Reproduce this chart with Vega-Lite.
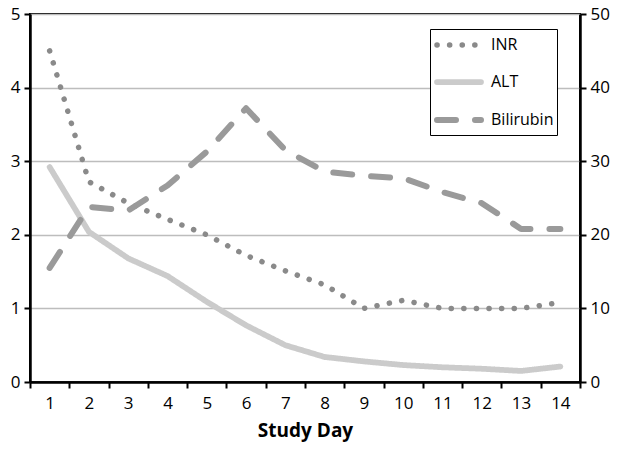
{
  "$schema": "https://vega.github.io/schema/vega-lite/v6.json",
  "width": 550,
  "height": 368,
  "autosize": "none",
  "padding": {"left": 30, "top": 14, "right": 41, "bottom": 67},
  "background": "white",
  "config": {
    "font": "Open Sans",
    "view": {"stroke": "black", "strokeWidth": 2},
    "axis": {"labelFont": "Open Sans", "labelFontSize": 17, "labelColor": "black", "domainColor": "black", "domainWidth": 2.5, "tickColor": "black", "tickWidth": 2, "tickSize": 6},
    "legend": {"labelFontSize": 16, "labelFont": "Open Sans", "labelColor": "black"}
  },
  "datasets": {
    "left": [
      {"day": 1, "series": "INR", "value": 4.5},
      {"day": 2, "series": "INR", "value": 2.72},
      {"day": 3, "series": "INR", "value": 2.43},
      {"day": 4, "series": "INR", "value": 2.21},
      {"day": 5, "series": "INR", "value": 2.0},
      {"day": 6, "series": "INR", "value": 1.72},
      {"day": 7, "series": "INR", "value": 1.51},
      {"day": 8, "series": "INR", "value": 1.32},
      {"day": 9, "series": "INR", "value": 1.0},
      {"day": 10, "series": "INR", "value": 1.11},
      {"day": 11, "series": "INR", "value": 1.0},
      {"day": 12, "series": "INR", "value": 1.0},
      {"day": 13, "series": "INR", "value": 1.0},
      {"day": 14, "series": "INR", "value": 1.08},
      {"day": 1, "series": "ALT", "value": 2.92},
      {"day": 2, "series": "ALT", "value": 2.04},
      {"day": 3, "series": "ALT", "value": 1.68},
      {"day": 4, "series": "ALT", "value": 1.44},
      {"day": 5, "series": "ALT", "value": 1.09},
      {"day": 6, "series": "ALT", "value": 0.77},
      {"day": 7, "series": "ALT", "value": 0.5},
      {"day": 8, "series": "ALT", "value": 0.34},
      {"day": 9, "series": "ALT", "value": 0.28},
      {"day": 10, "series": "ALT", "value": 0.23},
      {"day": 11, "series": "ALT", "value": 0.2},
      {"day": 12, "series": "ALT", "value": 0.18},
      {"day": 13, "series": "ALT", "value": 0.15},
      {"day": 14, "series": "ALT", "value": 0.21}
    ],
    "right": [
      {"day": 1, "series": "Bilirubin", "value": 15.5},
      {"day": 2, "series": "Bilirubin", "value": 23.8},
      {"day": 3, "series": "Bilirubin", "value": 23.3},
      {"day": 4, "series": "Bilirubin", "value": 26.7},
      {"day": 5, "series": "Bilirubin", "value": 31.3},
      {"day": 6, "series": "Bilirubin", "value": 37.2},
      {"day": 7, "series": "Bilirubin", "value": 31.5},
      {"day": 8, "series": "Bilirubin", "value": 28.6},
      {"day": 9, "series": "Bilirubin", "value": 28.0},
      {"day": 10, "series": "Bilirubin", "value": 27.7},
      {"day": 11, "series": "Bilirubin", "value": 25.8},
      {"day": 12, "series": "Bilirubin", "value": 24.3},
      {"day": 13, "series": "Bilirubin", "value": 20.8},
      {"day": 14, "series": "Bilirubin", "value": 20.8}
    ]
  },
  "encoding": {
    "x": {
      "field": "day", "type": "quantitative",
      "scale": {"domain": [0.5, 14.5], "nice": false, "zero": false},
      "axis": {
        "title": "Study Day", "titleFontSize": 19, "titleFontWeight": "bold", "titleColor": "black", "titlePadding": 10,
        "values": [0.5, 1.5, 2.5, 3.5, 4.5, 5.5, 6.5, 7.5, 8.5, 9.5, 10.5, 11.5, 12.5, 13.5, 14.5],
        "labelExpr": "datum.value < 14 ? format(datum.value + 0.5, 'd') : ''",
        "labelOffset": 19.64, "labelPadding": 7, "grid": false, "labelFlush": false
      }
    },
    "color": {
      "field": "series", "type": "nominal",
      "scale": {"domain": ["INR", "ALT", "Bilirubin"], "range": ["#8a8a8a", "#cbcbcb", "#9a9a9a"]},
      "legend": {
        "title": null, "orient": "none", "legendX": 400, "legendY": 15,
        "strokeColor": "black", "fillColor": "white", "padding": 3,
        "symbolType": "M-2.2,0H2.2", "symbolSize": 400, "rowPadding": 13,
        "labelFontSize": 16, "labelColor": "black", "labelFont": "Open Sans", "labelOffset": 32,
        "encode": {"symbols": {"update": {"strokeCap": {"value": "round"}, "x": {"value": 26}}}}
      }
    },
    "strokeDash": {
      "field": "series", "type": "nominal",
      "scale": {"domain": ["INR", "ALT", "Bilirubin"], "range": [[0.1, 12.5], [1, 0], [19, 19]]},
      "legend": {
        "title": null, "orient": "none", "legendX": 400, "legendY": 15,
        "strokeColor": "black", "fillColor": "white", "padding": 3,
        "symbolType": "M-2.2,0H2.2", "symbolSize": 400, "rowPadding": 13,
        "labelFontSize": 16, "labelColor": "black", "labelFont": "Open Sans", "labelOffset": 32,
        "encode": {"symbols": {"update": {"strokeCap": {"value": "round"}, "x": {"value": 26}}}}
      }
    },
    "strokeWidth": {
      "field": "series", "type": "nominal",
      "scale": {"domain": ["INR", "ALT", "Bilirubin"], "range": [5.5, 6, 6]},
      "legend": {
        "title": null, "orient": "none", "legendX": 400, "legendY": 15,
        "strokeColor": "black", "fillColor": "white", "padding": 3,
        "symbolType": "M-2.2,0H2.2", "symbolSize": 400, "rowPadding": 13,
        "labelFontSize": 16, "labelColor": "black", "labelFont": "Open Sans", "labelOffset": 32,
        "encode": {"symbols": {"update": {"strokeCap": {"value": "round"}, "x": {"value": 26}}}}
      }
    }
  },
  "layer": [
    {
      "data": {"name": "left"},
      "mark": {"type": "line", "strokeCap": "round", "strokeJoin": "round"},
      "encoding": {
        "y": {
          "field": "value", "type": "quantitative",
          "scale": {"domain": [0, 5], "nice": false},
          "axis": {"title": null, "orient": "left", "values": [0, 1, 2, 3, 4, 5], "gridColor": "#bdbdbd", "gridWidth": 1.5, "labelPadding": 4}
        }
      }
    },
    {
      "data": {"name": "right"},
      "mark": {"type": "line", "strokeCap": "round", "strokeJoin": "round"},
      "encoding": {
        "y": {
          "field": "value", "type": "quantitative",
          "scale": {"domain": [0, 50], "nice": false},
          "axis": {"title": null, "orient": "right", "values": [0, 10, 20, 30, 40, 50], "grid": false, "labelPadding": 4}
        }
      }
    }
  ],
  "resolve": {"scale": {"y": "independent"}}
}
